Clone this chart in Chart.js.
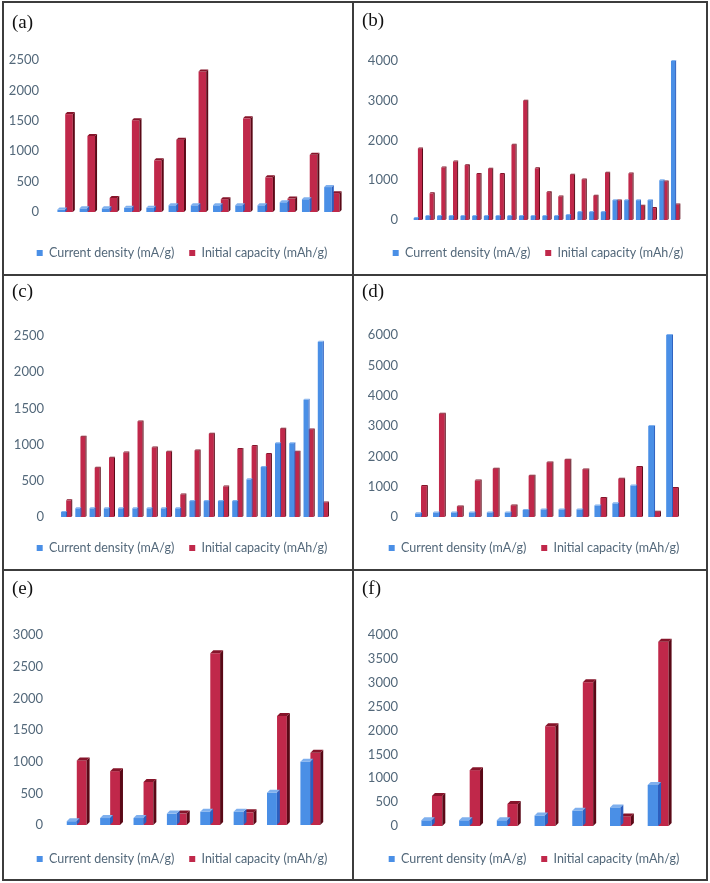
<!DOCTYPE html>
<html>
<head>
<meta charset="utf-8">
<script src="https://cdn.jsdelivr.net/npm/chart.js@4.4.1/dist/chart.umd.min.js"></script>
<style>
html, body { margin: 0; padding: 0; background: #fff; }
#page { position: relative; width: 710px; height: 883px; overflow: hidden; }
.box { position: absolute; }
.tag { position: absolute; font-family: "Liberation Serif", serif; font-size: 19px; color: #111; line-height: 1; }
.ln { position: absolute; background: #3c3c3c; }
</style>
</head>
<body>
<div id="page"></div>
<script>
// series names used by every panel
var seriesNames = ['Current density (mA/g)', 'Initial capacity (mAh/g)'];

// (a)
var aLabels = ['1','2','3','4','5','6','7','8','9','10','11','12','13'];
var aDensity = [40, 60, 60, 70, 70, 110, 110, 110, 110, 110, 160, 210, 410];
var aCapacity = [1610, 1250, 230, 1510, 850, 1190, 2310, 210, 1540, 570, 220, 940, 310];

// (b)
var bLabels = ['1','2','3','4','5','6','7','8','9','10','11','12','13','14','15','16','17','18','19','20','21','22','23'];
var bDensity = [50, 100, 100, 100, 100, 100, 100, 100, 100, 100, 100, 100, 100, 125, 200, 200, 200, 500, 500, 500, 500, 1000, 4000];
var bCapacity = [1800, 670, 1320, 1470, 1380, 1160, 1290, 1160, 1890, 3000, 1300, 700, 590, 1140, 1020, 610, 1190, 490, 1170, 360, 300, 970, 390];

// (c)
var cLabels = ['1','2','3','4','5','6','7','8','9','10','11','12','13','14','15','16','17','18','19'];
var cDensity = [70, 120, 120, 120, 120, 120, 120, 120, 120, 220, 220, 220, 220, 520, 690, 1020, 1020, 1620, 2420];
var cCapacity = [230, 1110, 680, 820, 890, 1320, 960, 900, 310, 920, 1150, 420, 940, 980, 870, 1220, 900, 1210, 200];

// (d)
var dLabels = ['1','2','3','4','5','6','7','8','9','10','11','12','13','14','15'];
var dDensity = [120, 150, 150, 150, 150, 150, 230, 250, 250, 250, 380, 450, 1040, 3000, 6000];
var dCapacity = [1020, 3400, 350, 1200, 1590, 380, 1360, 1800, 1890, 1570, 630, 1260, 1650, 170, 960];

// (e)
var eLabels = ['1','2','3','4','5','6','7','8'];
var eDensity = [60, 110, 110, 180, 210, 210, 510, 1000];
var eCapacity = [1020, 850, 680, 180, 2710, 200, 1720, 1140];

// (f)
var fLabels = ['1','2','3','4','5','6','7'];
var fDensity = [120, 120, 120, 220, 320, 390, 860];
var fCapacity = [630, 1170, 460, 2090, 3010, 200, 3860];

// y axis ranges (max, step) per panel
var aAxis = [2500, 500];
var bAxis = [4000, 1000];
var cAxis = [2500, 500];
var dAxis = [6000, 1000];
var eAxis = [3000, 500];
var fAxis = [4000, 500];

var blue = '#4a8fe6', red = '#c0284a';
var tones = [
  { side: '#2a5fc0', top: '#7fb0ee' },
  { side: '#5a0816', top: '#86142a' }
];
var textGrey = '#53687a';
var page = document.getElementById('page');

// fake 3d depth on the bars, drawn from the bar elements the library placed
var depth3d = {
  id: 'depth3d',
  afterDatasetDraw: function(chart, args, opts) {
    var d = opts.depth || 0;
    if (!d) return;
    var ctx = chart.ctx;
    var t = tones[args.index];
    ctx.save();
    args.meta.data.forEach(function(bar) {
      var p = bar.getProps(['x', 'y', 'base', 'width'], true);
      var l = p.x - p.width / 2, r = p.x + p.width / 2;
      var top = Math.min(p.y, p.base), bot = Math.max(p.y, p.base);
      ctx.fillStyle = t.side;
      ctx.beginPath();
      ctx.moveTo(r, top); ctx.lineTo(r + d, top - d); ctx.lineTo(r + d, bot - d); ctx.lineTo(r, bot);
      ctx.closePath(); ctx.fill();
      ctx.fillStyle = t.top;
      ctx.beginPath();
      ctx.moveTo(l, top); ctx.lineTo(l + d, top - d); ctx.lineTo(r + d, top - d); ctx.lineTo(r, top);
      ctx.closePath(); ctx.fill();
    });
    ctx.restore();
  }
};

function line(x, y, w, h) {
  var el = document.createElement('div');
  el.className = 'ln';
  el.style.cssText = 'left:' + x + 'px;top:' + y + 'px;width:' + w + 'px;height:' + h + 'px;';
  page.appendChild(el);
}

function makePanel(p) {
  // canvas width chosen so the centred legend lands where the reference has it
  var W = 2 * (p.legMid - p.x0), H = p.y1 - p.y0;
  var box = document.createElement('div');
  box.className = 'box';
  box.style.cssText = 'left:' + p.x0 + 'px;top:' + p.y0 + 'px;width:' + W + 'px;height:' + H + 'px;';
  var cv = document.createElement('canvas');
  box.appendChild(cv);
  page.appendChild(box);

  var tag = document.createElement('div');
  tag.className = 'tag';
  tag.textContent = p.tag;
  tag.style.left = p.tagX + 'px';
  tag.style.top = p.tagY + 'px';
  page.appendChild(tag);

  var fs = 12.5, lp = 15;
  var top = p.top - p.y0, bottom = p.bottom - p.y0, left = p.left - p.x0;
  var rightGap = W - (p.right - p.x0);
  // legend box is fs + lp + 10 tall, its text centred at lp + fs/2 below its top
  var legTop = (p.legY - p.y0) - lp - fs / 2;
  var padBottom = H - legTop - (fs + lp + 10);
  var xh = legTop - bottom;

  new Chart(cv, {
    type: 'bar',
    data: {
      labels: p.labels,
      datasets: [
        { label: seriesNames[0], data: p.density, backgroundColor: blue, borderWidth: 0,
          categoryPercentage: p.cat, barPercentage: 0.98 },
        { label: seriesNames[1], data: p.capacity, backgroundColor: red, borderWidth: 0,
          categoryPercentage: p.cat, barPercentage: 0.98 }
      ]
    },
    options: {
      responsive: true,
      maintainAspectRatio: false,
      animation: false,
      devicePixelRatio: 1,
      layout: { padding: { top: top, left: 0, right: 0, bottom: padBottom } },
      scales: {
        x: {
          grid: { display: false, drawTicks: false }, border: { display: false },
          ticks: { display: false },
          afterFit: function(s) { s.height = xh; }
        },
        y: {
          min: 0, max: p.axis[0],
          grid: { display: false, drawTicks: false }, border: { display: false },
          ticks: { stepSize: p.axis[1], color: textGrey, padding: left - (p.labRight - p.x0),
                   font: { family: 'Lato', size: 13 },
                   callback: function(v) { return String(v); } },
          afterFit: function(s) { s.width = left; }
        },
        // empty spacer on the right so the plot ends where the reference's does
        gap: {
          type: 'linear', position: 'right',
          grid: { display: false, drawTicks: false }, border: { display: false },
          ticks: { display: false },
          afterFit: function(s) { s.width = rightGap; }
        }
      },
      plugins: {
        legend: {
          position: 'bottom',
          labels: { boxWidth: 6, boxHeight: 6, padding: lp, color: textGrey,
                    font: { family: 'Lato', size: fs } }
        },
        tooltip: { enabled: false },
        depth3d: { depth: p.depth }
      }
    },
    plugins: [depth3d]
  });
}

// frame
line(2, 1, 706, 2);
line(2, 879, 706, 2);
line(2, 1, 2, 880);
line(706, 1, 2, 880);
line(352, 1, 2, 880);
line(2, 274, 706, 2);
line(2, 569, 706, 2);

makePanel({ tag: '(a)', tagX: 12, tagY: 12, x0: 4, y0: 3, y1: 274,
  left: 54, right: 343, top: 60, bottom: 212, legY: 253, legMid: 182, labRight: 39, cat: 0.7, depth: 2,
  labels: aLabels, density: aDensity, capacity: aCapacity, axis: aAxis });
makePanel({ tag: '(b)', tagX: 362, tagY: 10, x0: 354, y0: 3, y1: 274,
  left: 412, right: 681, top: 61, bottom: 220, legY: 253, legMid: 538, labRight: 398, cat: 0.72, depth: 1,
  labels: bLabels, density: bDensity, capacity: bCapacity, axis: bAxis });
makePanel({ tag: '(c)', tagX: 12, tagY: 281, x0: 4, y0: 276, y1: 569,
  left: 59, right: 330, top: 336, bottom: 517, legY: 548, legMid: 182, labRight: 44, cat: 0.72, depth: 1,
  labels: cLabels, density: cDensity, capacity: cCapacity, axis: cAxis });
makePanel({ tag: '(d)', tagX: 362, tagY: 281, x0: 354, y0: 276, y1: 569,
  left: 412, right: 681, top: 335, bottom: 517, legY: 548, legMid: 534, labRight: 398, cat: 0.66, depth: 1,
  labels: dLabels, density: dDensity, capacity: dCapacity, axis: dAxis });
makePanel({ tag: '(e)', tagX: 12, tagY: 578, x0: 4, y0: 571, y1: 879,
  left: 60, right: 327, top: 635, bottom: 825, legY: 859, legMid: 182, labRight: 43, cat: 0.6, depth: 3,
  labels: eLabels, density: eDensity, capacity: eCapacity, axis: eAxis });
makePanel({ tag: '(f)', tagX: 362, tagY: 578, x0: 354, y0: 571, y1: 879,
  left: 413, right: 677, top: 635, bottom: 826, legY: 859, legMid: 534, labRight: 398, cat: 0.56, depth: 3,
  labels: fLabels, density: fDensity, capacity: fCapacity, axis: fAxis });
</script>
</body>
</html>
